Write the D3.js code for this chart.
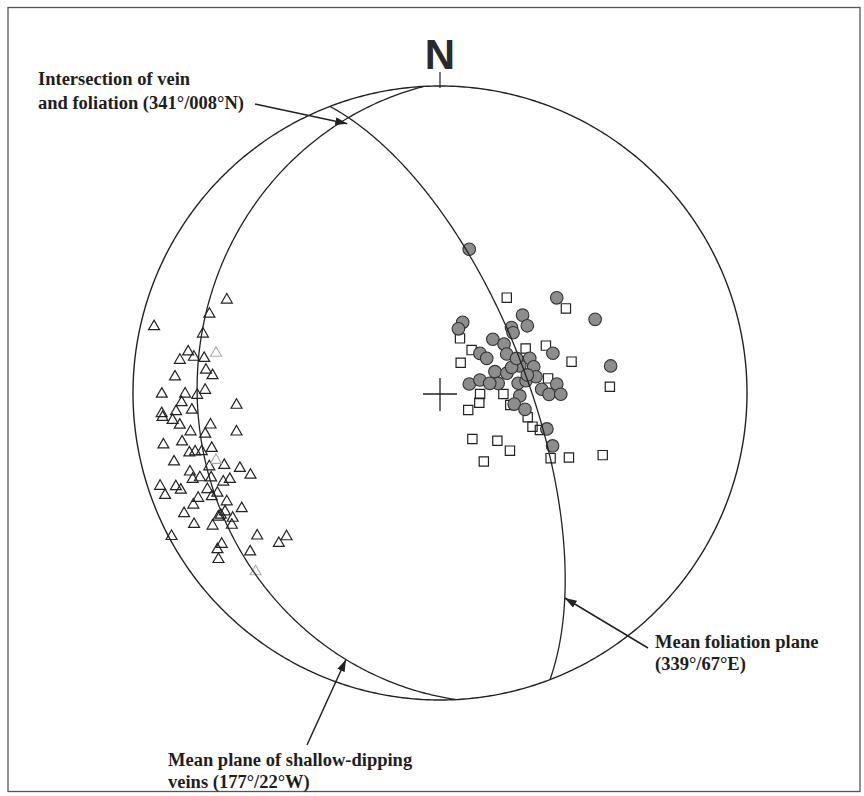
<!DOCTYPE html>
<html>
<head>
<meta charset="utf-8">
<script src="https://cdn.jsdelivr.net/npm/d3@7"></script>
<style>
  html, body { margin: 0; padding: 0; background: #fff; }
  svg { display: block; }
</style>
</head>
<body>
<svg id="chart" width="864" height="796"></svg>
<script>
// Lower-hemisphere equal-area (Schmidt) net. Lines are [trend°, plunge°].

// Poles to foliation
const foliationPoles = [
  [293.6,25.2],[288.9,21.7],[283.1,4.9],[284.0,21.5],[279.3,18.0],[277.2,15.7],[278.3,20.1],
  [278.4,23.4],[273.5,14.6],[275.6,24.4],[274.4,26.6],[269.8,10.3],[269.8,18.1],[269.5,22.0],
  [270.7,24.5],[267.9,16.9],[266.1,20.1],[266.6,34.0],[265.8,10.0],[265.0,10.2],[264.2,13.5],
  [266.0,14.9],[263.0,15.7],[262.1,25.5],[261.2,18.9],[260.1,23.4],[259.2,33.0],[259.4,9.2],
  [259.3,15.6],[256.6,17.2],[256.5,19.1],[256.2,21.2],[256.4,24.5],[255.5,11.5],[252.3,22.2],
  [251.5,26.8],[249.4,31.0],[246.6,33.2],[252.5,15.7],[250.8,15.8],[250.6,18.2],[249.7,21.6],
  [247.7,24.7],[247.7,26.9],[251.6,4.4],[249.6,5.0],[250.5,9.6],[249.5,10.8],[247.5,19.1],
  [245.8,21.6],[246.5,15.2],[245.6,19.5],[245.6,12.8],[243.0,23.1],[244.8,8.7],[239.8,26.2],
  [240.9,19.4],[241.1,21.1],[238.9,22.2],[241.9,10.1],[239.7,15.3],[237.6,20.8],[240.8,18.4],
  [241.9,1.0],[232.0,25.4],[226.9,32.1],[227.0,29.0],[235.3,14.6],[234.9,12.4],[230.1,20.5],
  [233.1,10.7]
];
// Poles to foliation, faintly printed
const foliationPolesFaint = [[280.1,26.8],[253.3,24.8],[225.9,17.5]];

// Poles to shallow-dipping veins (filled circles)
const veinPolesFilled = [
  [11.5,50.5],[50.8,49.4],[64.6,43.4],[46.7,59.7],[52.4,60.6],[17.8,70.3],[16.0,72.3],
  [47.5,64.2],[50.5,64.8],[44.5,70.0],[52.6,68.6],[45.2,75.1],[53.4,74.6],[59.7,69.5],
  [70.6,58.0],[81.0,43.1],[68.9,64.4],[71.2,67.6],[74.4,64.1],[68.8,74.4],[73.5,71.5],
  [70.3,69.8],[72.9,81.9],[72.0,78.9],[80.6,74.4],[82.9,69.1],[81.9,66.9],[80.4,64.1],
  [87.9,62.9],[90.7,60.9],[85.6,58.7],[90.6,57.7],[92.1,68.8],[98.5,70.1],[100.9,67.0],
  [108.6,59.9],[115.2,56.7],[65.7,67.7],[79.0,76.6],[78.3,66.3]
];

// Poles to shallow-dipping veins (open squares)
const veinPolesOpen = [
  [35.0,58.9],[56.1,49.1],[20.1,74.6],[62.5,64.3],[65.9,59.0],[36.4,75.9],[34.3,80.3],
  [76.6,53.7],[82.3,60.9],[87.9,43.9],[91.4,79.4],[90.9,73.2],[103.9,79.3],[121.0,81.3],
  [99.7,71.1],[105.5,65.8],[110.0,63.8],[110.3,61.6],[144.9,75.1],[129.8,70.2],[129.5,65.9],
  [147.4,68.4],[120.5,55.6],[116.6,51.2],[110.9,42.7]
];

// Mean planes, strike° / dip° (right-hand rule)
const planeNames = ["foliation", "veins"];
const planeStrikes = [339, 177];
const planeDips = [67, 22];

// Intersection lineation of vein and foliation
const intersectionLine = [341, 8];

// Annotation text
const labelIntersection = ["Intersection of vein", "and foliation (341°/008°N)"];
const labelFoliation = ["Mean foliation plane", "(339°/67°E)"];
const labelVeins = ["Mean plane of shallow-dipping", "veins (177°/22°W)"];

// ---------------------------------------------------------------
const svg = d3.select("#chart");
const cx = 440, cy = 393, R = 307;
const rad = Math.PI / 180, deg = 180 / Math.PI;

// Looking down the vertical: latitude = plunge, trend measured clockwise from N
const projection = d3.geoAzimuthalEqualArea()
  .rotate([0, -90])
  .scale(R / Math.SQRT2)
  .translate([cx, cy])
  .precision(0.1);
const toGeo = ([t, p]) => [180 - t, p];
const at = line => projection(toGeo(line));
const path = d3.geoPath(projection);

// direction cosines (north, east, down)
function toVec([t, p]) {
  return [Math.cos(p * rad) * Math.cos(t * rad), Math.cos(p * rad) * Math.sin(t * rad), Math.sin(p * rad)];
}
function toLine([n, e, d]) {
  if (d < 0) { n = -n; e = -e; d = -d; }
  const len = Math.hypot(n, e, d);
  return [(Math.atan2(e, n) * deg + 360) % 360, Math.asin(Math.min(1, d / len)) * deg];
}
// a line lying in the plane, a° from the strike direction
function planeLine(strike, dip, a) {
  const s = toVec([strike, 0]);
  const dv = toVec([(strike + 90) % 360, dip]);
  const c = Math.cos(a * rad), sn = Math.sin(a * rad);
  return toLine([c * s[0] + sn * dv[0], c * s[1] + sn * dv[1], c * s[2] + sn * dv[2]]);
}

const ink = "#222";

// frame
svg.append("rect")
  .attr("x", 8).attr("y", 7.5).attr("width", 852).attr("height", 784)
  .attr("fill", "none").attr("stroke", "#555").attr("stroke-width", 1.3);

// arrowhead
svg.append("defs").append("marker")
  .attr("id", "head")
  .attr("viewBox", "0 -4 12 8")
  .attr("refX", 12).attr("refY", 0)
  .attr("markerWidth", 12).attr("markerHeight", 8)
  .attr("markerUnits", "userSpaceOnUse")
  .attr("orient", "auto")
  .append("path").attr("d", "M0,-4L12,0L0,4Z").attr("fill", ink);

// centre cross
svg.append("path")
  .attr("d", `M${cx - 17},${cy + 1}H${cx + 17}M${cx},${cy - 15}V${cy + 18}`)
  .attr("stroke", ink).attr("stroke-width", 1.3).attr("fill", "none");

// north tick and label
const north = at([0, 0]);
svg.append("line")
  .attr("x1", north[0]).attr("x2", north[0])
  .attr("y1", north[1] - 14).attr("y2", north[1] + 2)
  .attr("stroke", ink).attr("stroke-width", 1.2);
svg.append("text")
  .attr("x", north[0]).attr("y", north[1] - 17)
  .attr("text-anchor", "middle")
  .attr("font-family", "'Liberation Sans', Arial, sans-serif")
  .attr("font-weight", "bold").attr("font-size", 42)
  .attr("fill", "#2a2a2a")
  .text("N");

// poles to foliation: open triangles
const tri = d3.symbol().type(d3.symbolTriangle).size(52);
svg.append("g").selectAll("path").data(foliationPoles).join("path")
  .attr("transform", d => `translate(${at(d)})`)
  .attr("d", tri).attr("fill", "none").attr("stroke", ink).attr("stroke-width", 1.2);
svg.append("g").selectAll("path").data(foliationPolesFaint).join("path")
  .attr("transform", d => `translate(${at(d)})`)
  .attr("d", tri).attr("fill", "none").attr("stroke", "#aaa").attr("stroke-width", 1.1);

// poles to veins: open squares
const sq = d3.symbol().type(d3.symbolSquare).size(86);
svg.append("g").selectAll("path").data(veinPolesOpen).join("path")
  .attr("transform", d => `translate(${at(d)})`)
  .attr("d", sq).attr("fill", "none").attr("stroke", ink).attr("stroke-width", 1.2);

// poles to veins: filled circles
svg.append("g").selectAll("circle").data(veinPolesFilled).join("circle")
  .attr("cx", d => at(d)[0]).attr("cy", d => at(d)[1]).attr("r", 6.3)
  .attr("fill", "#8d8d8d").attr("stroke", "#333").attr("stroke-width", 1.1);

// mean planes as great circles
const planes = planeNames.map((name, i) => ({ name, strike: planeStrikes[i], dip: planeDips[i] }));
svg.append("g").selectAll("path").data(planes).join("path")
  .attr("d", p => path({
    type: "LineString",
    coordinates: d3.range(0, 180.5, 0.5).map(a => toGeo(planeLine(p.strike, p.dip, a)))
  }))
  .attr("fill", "none").attr("stroke", ink).attr("stroke-width", 1.3);

// primitive circle
svg.append("path")
  .datum(d3.geoCircle().center([0, 90]).radius(90).precision(0.5)())
  .attr("d", path)
  .attr("fill", "none").attr("stroke", ink).attr("stroke-width", 1.4);

// annotations
function label(lines, x, y, lh) {
  const t = svg.append("text")
    .attr("font-family", "'Liberation Serif', 'Times New Roman', serif")
    .attr("font-weight", "bold").attr("font-size", 18.5).attr("fill", "#1e1e1e");
  lines.forEach((s, i) => t.append("tspan").attr("x", x).attr("y", y + i * lh).text(s));
}
function arrow(from, to) {
  svg.append("line")
    .attr("x1", from[0]).attr("y1", from[1]).attr("x2", to[0]).attr("y2", to[1])
    .attr("stroke", ink).attr("stroke-width", 1.5).attr("marker-end", "url(#head)");
}

label(labelIntersection, 38, 85, 23.5);
arrow([255, 104], at(intersectionLine));

label(labelFoliation, 655, 648, 21.5);
arrow([648, 648], at(planeLine(planes[0].strike, planes[0].dip, 155)));

label(labelVeins, 168, 766, 22);
arrow([307, 745], at(planeLine(planes[1].strike, planes[1].dip, 24)));
</script>
</body>
</html>
